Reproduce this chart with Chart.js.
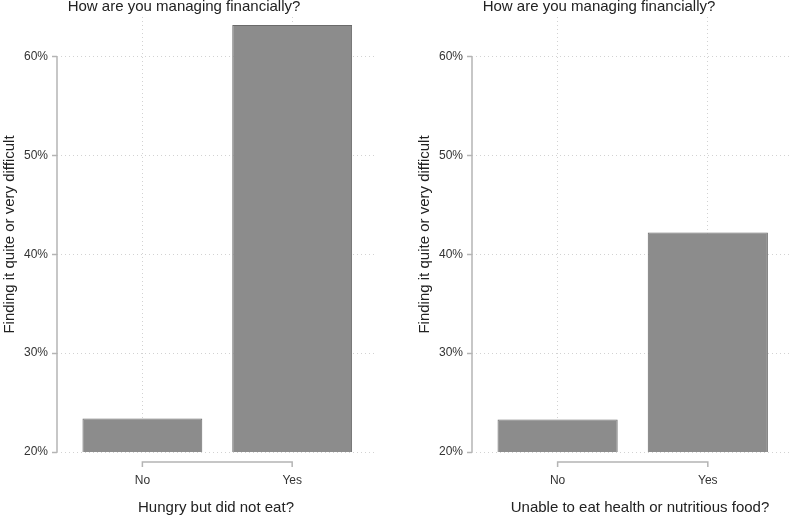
<!DOCTYPE html>
<html>
<head>
<meta charset="utf-8">
<script src="https://cdn.jsdelivr.net/npm/chart.js@4/dist/chart.umd.min.js"></script>
<style>
    html, body { margin: 0; padding: 0; background: #fff; }
    body { width: 791px; height: 520px; overflow: hidden; position: relative; }
    #left { position: absolute; left: 0; top: 0; }
    #right { position: absolute; left: 415px; top: 0; }
</style>
</head>
<body>
<canvas id="left" width="395" height="520"></canvas>
<canvas id="right" width="413" height="520"></canvas>
<script>
var categories = ['No', 'Yes']
var hungryValues = [23.4, 63.2]
var unableValues = [23.3, 42.2]
var yTicks = [20, 30, 40, 50, 60]

var topTitle = 'How are you managing financially?'
var yTitle = 'Finding it quite or very difficult'
var hungryTitle = 'Hungry but did not eat?'
var unableTitle = 'Unable to eat health or nutritious food?'

var fontFamily = '"Liberation Sans", Arial, sans-serif'
var axisColor = '#b4b4b4'
var gridColor = '#d2d2d2'

// stata style: axis line only between first and last tick, bracket under the bars
var stataAxes = {
    id: 'stataAxes',
    afterDraw: function (chart) {
        var ctx = chart.ctx
        var xs = chart.scales.x
        var ys = chart.scales.y
        var area = chart.chartArea
        ctx.save()
        ctx.strokeStyle = axisColor
        ctx.lineWidth = 1.5
        ctx.beginPath()
        ctx.moveTo(area.left, ys.getPixelForValue(yTicks[yTicks.length - 1]))
        ctx.lineTo(area.left, ys.getPixelForValue(yTicks[0]))
        ctx.stroke()

        var x0 = xs.getPixelForValue(0)
        var x1 = xs.getPixelForValue(categories.length - 1)
        var by = area.bottom + 10
        ctx.beginPath()
        ctx.moveTo(x0, by + 5)
        ctx.lineTo(x0, by)
        ctx.lineTo(x1, by)
        ctx.lineTo(x1, by + 5)
        ctx.stroke()

        ctx.fillStyle = '#222'
        ctx.font = '15px ' + fontFamily
        ctx.textAlign = 'center'
        ctx.textBaseline = 'alphabetic'
        ctx.fillText(topTitle, area.left + 127, 11)
        ctx.restore()
    }
}

function makeChart(id, values, xTitle, xMax) {
    var ctx = document.getElementById(id).getContext('2d')
    return new Chart(ctx, {
        type: 'bar',
        data: {
            datasets: [{
                data: values.map(function (v, i) { return { x: i, y: v } }),
                backgroundColor: '#8c8c8c',
                borderColor: '#6a6a6a',
                borderWidth: 1,
                borderSkipped: false,
                barPercentage: 0.8,
                categoryPercentage: 1
            }]
        },
        options: {
            responsive: false,
            animation: false,
            layout: { padding: { top: 17, right: 20, left: 0, bottom: 0 } },
            plugins: {
                legend: { display: false },
                tooltip: { enabled: false }
            },
            scales: {
                x: {
                    type: 'linear',
                    offset: false,
                    min: -0.57,
                    max: xMax,
                    afterBuildTicks: function (scale) {
                        scale.ticks = categories.map(function (c, i) { return { value: i } })
                    },
                    afterFit: function (scale) { scale.height = 68 },
                    border: { display: false, dash: [1, 3] },
                    grid: { offset: false, color: gridColor, drawTicks: false, lineWidth: 1 },
                    ticks: {
                        padding: 21,
                        color: '#333',
                        font: { family: fontFamily, size: 12 },
                        callback: function (v) { return categories[v] }
                    },
                    title: {
                        display: true,
                        text: xTitle,
                        color: '#222',
                        font: { family: fontFamily, size: 15 },
                        padding: { top: 3, bottom: 3 }
                    }
                },
                y: {
                    min: 20,
                    max: 64,
                    afterBuildTicks: function (scale) {
                        scale.ticks = yTicks.map(function (t) { return { value: t } })
                    },
                    afterFit: function (scale) { scale.width = 57 },
                    border: { display: false, dash: [1, 3] },
                    grid: {
                        color: gridColor,
                        lineWidth: 1,
                        tickLength: 5,
                        tickColor: axisColor,
                        tickWidth: 1.5,
                        tickBorderDash: []
                    },
                    ticks: {
                        padding: 4,
                        color: '#333',
                        font: { family: fontFamily, size: 12 },
                        callback: function (v) { return v + '%' }
                    },
                    title: {
                        display: true,
                        text: yTitle,
                        color: '#222',
                        font: { family: fontFamily, size: 15 },
                        padding: { top: 1, bottom: 0 }
                    }
                }
            }
        },
        plugins: [stataAxes]
    })
}

makeChart('left', hungryValues, hungryTitle, 1.553)
makeChart('right', unableValues, unableTitle, 1.667)
</script>
</body>
</html>
